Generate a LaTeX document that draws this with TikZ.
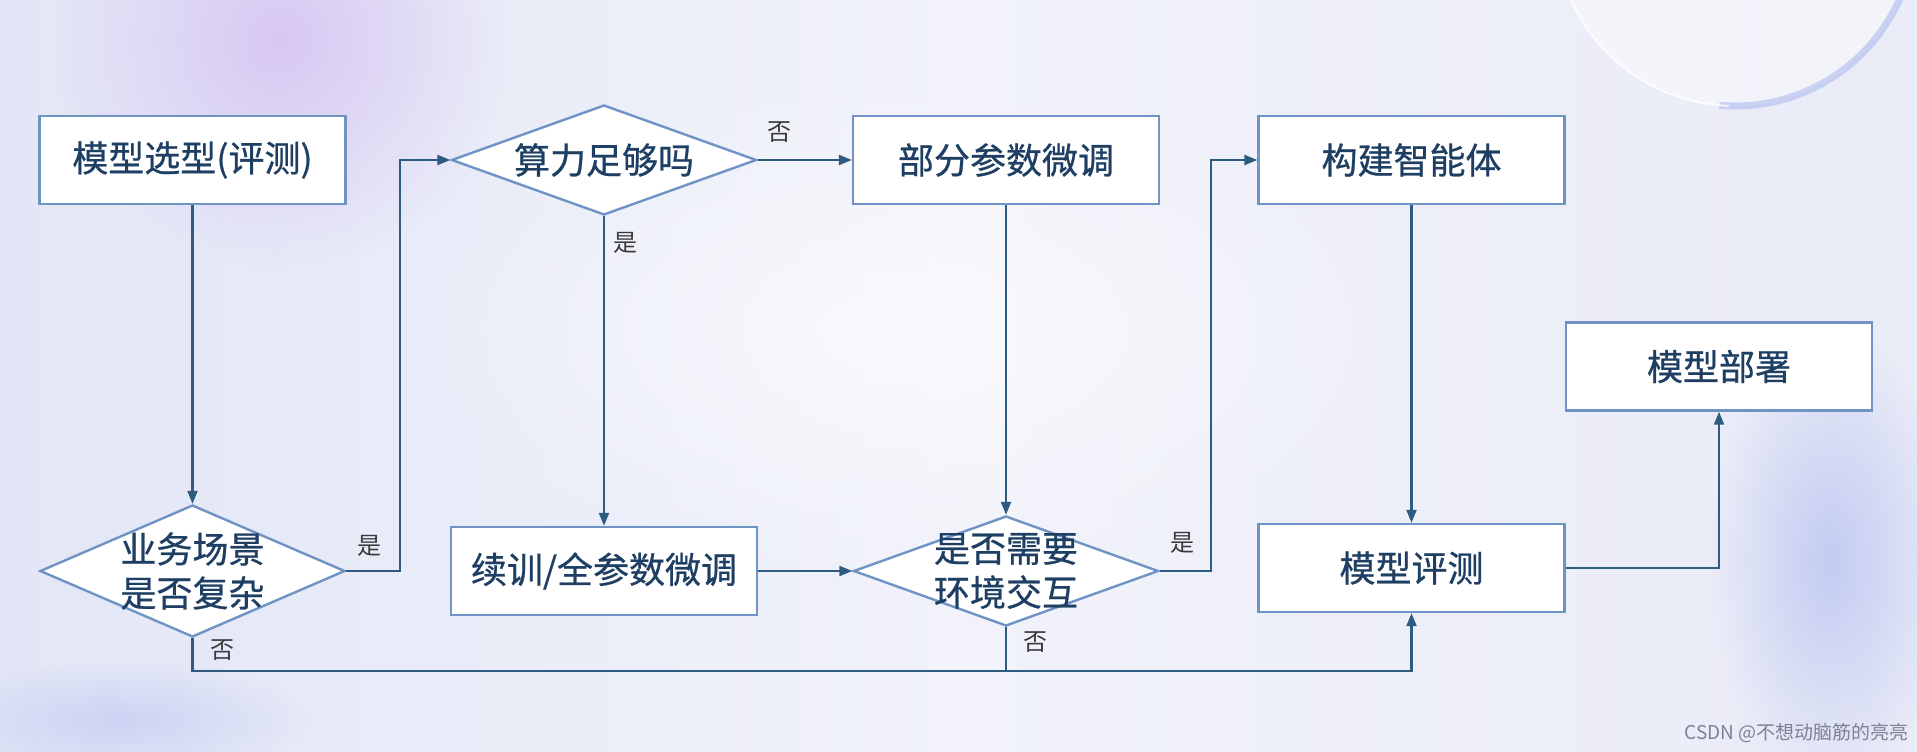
\documentclass[tikz,border=0pt]{standalone}
\usepackage{fontspec}
\setmainfont{Noto Sans CJK SC}
\newfontfamily\boxfont[FakeBold=0.7]{Noto Sans CJK SC}
\usetikzlibrary{shapes.geometric,arrows.meta,calc,fadings}
\tikzfading[name=softout, inner color=transparent!0, outer color=transparent!100]
\definecolor{bordercol}{HTML}{6E93C4}
\definecolor{linecol}{HTML}{2F5B83}
\definecolor{txtcol}{HTML}{1E3F63}
\definecolor{lblcol}{HTML}{3A3A3A}
\definecolor{bgL}{HTML}{E2E6F6}
\definecolor{bgM}{HTML}{F1F2FA}
\definecolor{bgR}{HTML}{E9EBF7}
\definecolor{blobP}{HTML}{D6C4F2}
\definecolor{blobB}{HTML}{A9B6EE}
\definecolor{wmcol}{HTML}{7C8294}
\tikzset{
  box/.style={draw=bordercol, line width=2.4pt, fill=white, minimum width=306pt,
    minimum height=88pt, inner sep=0pt, text=txtcol, font=\boxfont\fontsize{36}{42}\selectfont},
  dia/.style={diamond, draw=bordercol, line width=2.4pt, fill=white, inner sep=0pt,
    minimum width=305pt, minimum height=110pt},
  diatext/.style={text=txtcol, font=\boxfont\fontsize{36}{50}\selectfont, align=center},
  conn/.style={draw=linecol, line width=2.2pt, -{Triangle[length=13pt,width=10pt]}},
  plain/.style={draw=linecol, line width=2.2pt},
  yn/.style={text=lblcol, font=\fontsize{24}{26}\selectfont, inner sep=0pt}
}
\begin{document}
\begin{tikzpicture}[x=1pt,y=-1pt]
\useasboundingbox (0,0) rectangle (1917,752);
% background
\shade[left color=bgL, right color=bgR, middle color=bgM] (0,0) rectangle (1917,752);
\fill[blobP, path fading=softout, opacity=0.9] (280,40) circle (230);
\fill[blobB, path fading=softout, opacity=0.6] (1830,560) ellipse (120 and 230);
\fill[white, opacity=0.45] (1735,-74) circle (180);
\draw[blobB, line width=7pt, opacity=0.55] (1735,-74) ++(95:180) arc (95:10:180);
\draw[white, line width=2pt, opacity=0.8] (1735,-74) ++(160:180) arc (160:92:180);
\fill[blobB, path fading=softout, opacity=0.4] (120,720) ellipse (200 and 60);
\fill[white, path fading=softout, opacity=0.6] (900,330) ellipse (500 and 260);

% nodes
\node[box] (A) at (192.5,160) {模型选型(评测)};
\node[dia, label={[diatext]center:算力足够吗}] (B) at (604,160) {};
\node[box] (C) at (1006,160) {部分参数微调};
\node[box] (D) at (1411.5,160) {构建智能体};
\node[box] (E) at (1719,366.5) {模型部署};
\node[dia, minimum height=132pt, label={[diatext]center:{业务场景\\[-6pt]是否复杂}}] (F) at (192.5,571) {};
\node[box] (G) at (604,571) {续训/全参数微调};
\node[dia, label={[diatext]center:{是否需要\\[-6pt]环境交互}}] (H) at (1006,571) {};
\node[box] (I) at (1411.5,568) {模型评测};

\coordinate (bot) at (0,671);

% connectors
\draw[conn] (A.south) -- (F.north);
\draw[conn] (F.east) -- ($(F.east)+(54,0)$) |- (B.west);
\draw[conn] (B.east) -- (C.west);
\draw[conn] (B.south) -- (G.north);
\draw[conn] (G.east) -- (H.west);
\draw[conn] (C.south) -- (H.north);
\draw[conn] (H.east) -- ($(H.east)+(51,0)$) |- (D.west);
\draw[conn] (D.south) -- (I.north);
\draw[conn] (F.south) -- (F.south |- bot) -| (I.south);
\draw[plain] (H.south) -- (H.south |- bot);
\draw[conn] (I.east) -| (E.south);

% labels
\node[yn] (l1) at (369,546) {是};
\node[yn] (l2) at (779,132) {否};
\node[yn] (l3) at (625,243) {是};
\node[yn] (l4) at (1182,543) {是};
\node[yn] (l5) at (222,650) {否};
\node[yn] (l6) at (1035,642) {否};

\node[text=wmcol, font=\fontsize{19}{22}\selectfont, anchor=east] (wm) at (1912,733) {CSDN @不想动脑筋的亮亮};
\end{tikzpicture}
\end{document}
